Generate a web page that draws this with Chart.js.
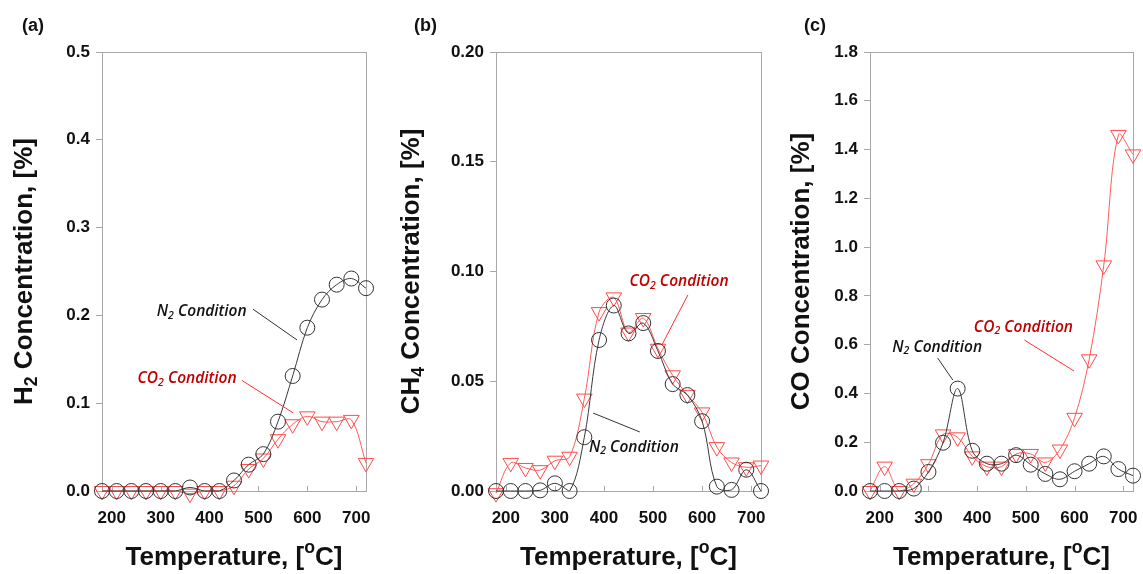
<!DOCTYPE html>
<html>
<head>
<meta charset="utf-8">
<script src="https://cdn.jsdelivr.net/npm/chart.js@4/dist/chart.umd.min.js"></script>
<style>
  html, body { margin: 0; padding: 0; background: #fff; }
  #wrap { position: relative; width: 1143px; height: 574px; }
  #wrap canvas { position: absolute; left: 0; top: 0; }
</style>
</head>
<body>
<div id="wrap">
  <canvas id="chartA" width="1143" height="574"></canvas>
  <canvas id="chartB" width="1143" height="574"></canvas>
  <canvas id="chartC" width="1143" height="574"></canvas>
</div>
<script>
// temperatures, every 30 degC
const temps = [180, 210, 240, 270, 300, 330, 360, 390, 420, 450, 480, 510, 540, 570, 600, 630, 660, 690, 720];

// (a) H2
const h2N2  = [0, 0, 0, 0, 0, 0, 0.004, 0, 0, 0.012, 0.030, 0.042, 0.079, 0.131, 0.186, 0.218, 0.235, 0.242, 0.231];
const h2CO2 = [0, 0, 0, 0, 0, 0, -0.003, 0, 0, 0.006, 0.025, 0.037, 0.059, 0.076, 0.085, 0.079, 0.079, 0.081, 0.032];

// (b) CH4
const ch4N2  = [0, 0, 0, 0.0003, 0.0035, 0, 0.0245, 0.0688, 0.0845, 0.0718, 0.0765, 0.0638, 0.0487, 0.0437, 0.0318, 0.002, 0.0005, 0.0097, 0];
const ch4CO2 = [-0.001, 0.0128, 0.0105, 0.0095, 0.0138, 0.0156, 0.0421, 0.0815, 0.0882, 0.0722, 0.0788, 0.0648, 0.0527, 0.0438, 0.0358, 0.0200, 0.0130, 0.0108, 0.0116];

// (c) CO
const coN2  = [0, 0, 0, 0.01, 0.078, 0.198, 0.42, 0.165, 0.112, 0.112, 0.147, 0.108, 0.07, 0.048, 0.081, 0.112, 0.142, 0.09, 0.063];
const coCO2 = [0, 0.1, 0, 0.03, 0.11, 0.232, 0.22, 0.142, 0.1, 0.1, 0.152, 0.152, 0.117, 0.17, 0.3, 0.54, 0.925, 1.46, 1.38];

// tick labels
const xTicks   = [200, 300, 400, 500, 600, 700];
const h2Ticks  = [0, 0.1, 0.2, 0.3, 0.4, 0.5];
const ch4Ticks = [0, 0.05, 0.10, 0.15, 0.20];
const coTicks  = [0, 0.2, 0.4, 0.6, 0.8, 1.0, 1.2, 1.4, 1.6, 1.8];

const BLACK_LINE = "#3a3a3a";
const RED_LINE = "#ff5a5a";
const RED_TEXT = "#c00000";
const FRAME = "#a8a8a8";

// ---------- text helpers ----------
function richWidth(ctx, parts, size) {
  let w = 0;
  parts.forEach((p) => {
    ctx.font = p.font(p.small ? size * 0.68 : size);
    w += ctx.measureText(p.t).width;
  });
  return w;
}

function drawRich(ctx, parts, x, y, size, color) {
  const w = richWidth(ctx, parts, size);
  let cx = x - w / 2;
  ctx.fillStyle = color;
  ctx.textBaseline = "middle";
  ctx.textAlign = "left";
  parts.forEach((p) => {
    const s = p.small ? size * 0.68 : size;
    ctx.font = p.font(s);
    let dy = 0;
    if (p.small === "sub") dy = size * 0.28;
    if (p.small === "sup") dy = -size * 0.38;
    ctx.fillText(p.t, cx, y + dy);
    cx += ctx.measureText(p.t).width;
  });
}

const boldF = (s) => `bold ${s}px "Liberation Sans", Arial, sans-serif`;
const noteF = (s) => `italic 600 ${s}px "Open Sans", sans-serif`;

const seg = (t, small, font) => ({ t, small, font: font || boldF });

function condLabel(gas, num) {
  return [seg(gas, false, noteF), seg(num, "sub", noteF), seg(" Condition", false, noteF)];
}

// ---------- plugin: frame, inner x ticks, titles, notes ----------
const decorPlugin = {
  id: "decor",
  beforeDatasetsDraw(chart, args, opts) {
    const { ctx, chartArea: a, scales } = chart;
    ctx.save();
    ctx.strokeStyle = FRAME;
    ctx.lineWidth = 1;
    ctx.strokeRect(Math.round(a.left) + 0.5, Math.round(a.top) + 0.5,
      Math.round(a.right - a.left), Math.round(a.bottom - a.top));
    // x ticks pointing inward
    xTicks.forEach((v) => {
      const px = Math.round(scales.x.getPixelForValue(v)) + 0.5;
      ctx.beginPath();
      ctx.moveTo(px, a.bottom);
      ctx.lineTo(px, a.bottom - 5);
      ctx.stroke();
    });
    ctx.restore();
  },
  afterDraw(chart, args, opts) {
    const { ctx, chartArea: a, scales } = chart;
    ctx.save();
    // panel letter
    ctx.font = boldF(18);
    ctx.fillStyle = "#111";
    ctx.textAlign = "left";
    ctx.textBaseline = "middle";
    ctx.fillText(opts.panel, opts.panelX, 26);

    // x title
    const xt = [seg("Temperature, ["), seg("o", "sup"), seg("C]")];
    drawRich(ctx, xt, (a.left + a.right) / 2, 558, 26, "#111");

    // y title
    ctx.save();
    ctx.translate(opts.yTitleX, (a.top + a.bottom) / 2);
    ctx.rotate(-Math.PI / 2);
    drawRich(ctx, opts.yTitle, 0, 0, 26, "#111");
    ctx.restore();

    // notes with leader lines
    (opts.notes || []).forEach((n) => {
      const x = scales.x, y = scales.y;
      ctx.strokeStyle = n.lineColor;
      ctx.lineWidth = 1;
      ctx.beginPath();
      ctx.moveTo(x.getPixelForValue(n.from[0]), y.getPixelForValue(n.from[1]));
      ctx.lineTo(x.getPixelForValue(n.to[0]), y.getPixelForValue(n.to[1]));
      ctx.stroke();
      drawRich(ctx, n.text, x.getPixelForValue(n.at[0]), y.getPixelForValue(n.at[1]), 15.5, n.color);
    });
    ctx.restore();
  },
};

// ---------- chart builder ----------
function makePanel(id, cfg) {
  const n2Set = {
    label: "N2 Condition",
    data: cfg.n2.map((v, i) => ({ x: temps[i], y: v })),
    borderColor: BLACK_LINE,
    borderWidth: 1,
    pointStyle: "circle",
    pointRadius: 7.5,
    pointBorderColor: "#333",
    pointBorderWidth: 1,
    pointBackgroundColor: "rgba(0,0,0,0)",
    tension: 0.35,
    clip: false,
  };
  const co2Set = {
    label: "CO2 Condition",
    data: cfg.co2.map((v, i) => ({ x: temps[i], y: v })),
    borderColor: RED_LINE,
    borderWidth: 1,
    pointStyle: "triangle",
    pointRotation: 180,
    pointRadius: 9,
    pointBorderColor: "#ff4a4a",
    pointBorderWidth: 1,
    pointBackgroundColor: "rgba(0,0,0,0)",
    tension: 0.35,
    clip: false,
  };

  return new Chart(document.getElementById(id), {
    type: "line",
    data: { datasets: [n2Set, co2Set] },
    plugins: [decorPlugin],
    options: {
      responsive: false,
      animation: false,
      events: [],
      layout: { padding: { left: 0, top: 52, right: 1143 - cfg.right, bottom: 0 } },
      plugins: {
        legend: { display: false },
        tooltip: { enabled: false },
        decor: {
          panel: cfg.panel,
          panelX: cfg.panelX,
          yTitle: cfg.yTitle,
          yTitleX: cfg.yTitleX,
          notes: cfg.notes,
        },
      },
      scales: {
        x: {
          type: "linear",
          min: 180,
          max: 720,
          afterBuildTicks: (s) => { s.ticks = xTicks.map((v) => ({ value: v })); },
          afterFit: (s) => { s.height = 83; s.paddingRight = 0; s.paddingLeft = 0; },
          // invisible tick marks just push the labels down
          grid: { display: true, drawOnChartArea: false, drawTicks: true, tickLength: 17, color: "rgba(0,0,0,0)" },
          border: { display: false },
          ticks: {
            padding: 0,
            color: "#111",
            font: { family: "'Liberation Sans', Arial, sans-serif", size: 17, weight: "bold" },
          },
        },
        y: {
          type: "linear",
          min: cfg.yTicks[0],
          max: cfg.yTicks[cfg.yTicks.length - 1],
          afterBuildTicks: (s) => { s.ticks = cfg.yTicks.map((v) => ({ value: v })); },
          afterFit: (s) => { s.width = cfg.left; },
          grid: { drawOnChartArea: false, drawTicks: true, tickLength: 6, color: FRAME },
          border: { display: false },
          ticks: {
            padding: 6,
            color: "#111",
            font: { family: "'Liberation Sans', Arial, sans-serif", size: 17, weight: "bold" },
            callback: (v) => v.toFixed(cfg.decimals),
          },
        },
      },
    },
  });
}

makePanel("chartA", {
  n2: h2N2, co2: h2CO2, yTicks: h2Ticks, decimals: 1,
  left: 102, right: 366,
  panel: "(a)", panelX: 22, yTitleX: 25,
  yTitle: [seg("H"), seg("2", "sub"), seg(" Concentration, [%]")],
  notes: [
    { text: condLabel("N", "2"), color: "#111", lineColor: "#333", at: [384, 0.204], from: [489, 0.207], to: [579, 0.172] },
    { text: condLabel("CO", "2"), color: RED_TEXT, lineColor: "#ff3030", at: [354, 0.128], from: [466, 0.126], to: [571, 0.089] },
  ],
});

makePanel("chartB", {
  n2: ch4N2, co2: ch4CO2, yTicks: ch4Ticks, decimals: 2,
  left: 496, right: 761,
  panel: "(b)", panelX: 414, yTitleX: 412,
  yTitle: [seg("CH"), seg("4", "sub"), seg(" Concentration, [%]")],
  notes: [
    { text: condLabel("CO", "2"), color: RED_TEXT, lineColor: "#ff3030", at: [553, 0.0952], from: [571, 0.0893], to: [518, 0.0665] },
    { text: condLabel("N", "2"), color: "#111", lineColor: "#333", at: [461, 0.020], from: [378, 0.0355], to: [473, 0.0269] },
  ],
});

makePanel("chartC", {
  n2: coN2, co2: coCO2, yTicks: coTicks, decimals: 1,
  left: 870, right: 1134,
  panel: "(c)", panelX: 804, yTitleX: 802,
  yTitle: [seg("CO Concentration, [%]")],
  notes: [
    { text: condLabel("N", "2"), color: "#111", lineColor: "#333", at: [318, 0.59], from: [319, 0.545], to: [350, 0.455] },
    { text: condLabel("CO", "2"), color: RED_TEXT, lineColor: "#ff3030", at: [495, 0.672], from: [497, 0.619], to: [599, 0.492] },
  ],
});
</script>
</body>
</html>
